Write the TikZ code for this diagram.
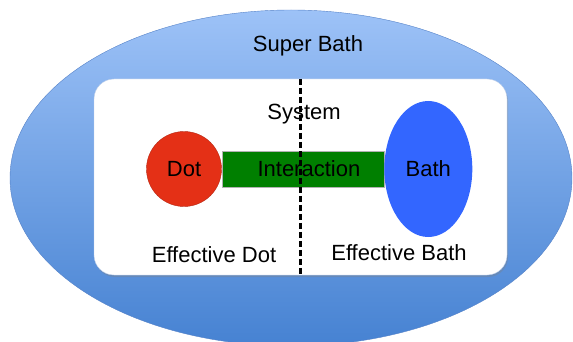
\documentclass[tikz,border=0pt]{standalone}
\usepackage{fontspec}
\setmainfont{Liberation Sans}
\usepackage{tikz}
\usetikzlibrary{shapes.geometric, shadows, positioning}
\definecolor{bathtop}{RGB}{157,194,247}
\definecolor{bathbot}{RGB}{70,130,210}
\definecolor{bathline}{RGB}{85,130,200}
\definecolor{dotred}{RGB}{228,48,22}
\definecolor{linkgreen}{RGB}{0,127,0}
\definecolor{bathblue}{RGB}{51,102,255}
\tikzstyle{superbath} = [ellipse, minimum width=562pt, minimum height=336pt, draw=bathline, top color=bathtop, bottom color=bathbot]
\tikzstyle{sysbox} = [rectangle, rounded corners=20pt, minimum width=413pt, minimum height=196pt, draw=bathline!40, fill=white, drop shadow={opacity=0.35, shadow xshift=1pt, shadow yshift=-2pt}]
\tikzstyle{dotnode} = [circle, minimum size=75pt, inner sep=0pt, draw=dotred!80!black, fill=dotred]
\tikzstyle{interaction} = [rectangle, minimum width=162pt, minimum height=36pt, inner sep=0pt, draw=gray!60, fill=linkgreen]
\tikzstyle{bathnode} = [ellipse, minimum width=88pt, minimum height=136pt, inner sep=0pt, fill=bathblue]
\tikzstyle{divider} = [draw=black, line width=2.4pt, dash pattern=on 6pt off 3pt]

\begin{document}
\begin{tikzpicture}[x=1pt, y=-1pt, font=\fontsize{22}{26}\selectfont, node distance=0pt]
\useasboundingbox (0,0) rectangle (573,342);
\node (super) [superbath] at (291,178) {};
\node (superlabel) at (308,46) {Super Bath};
\node (system) [sysbox] at (300.5,177) {};
\node (systemlabel) at (304,114) {System};
\node (dot) [dotnode] at (184,169) {Dot};
\node (link) [interaction, right=of dot] {\hspace*{12pt}Interaction};
\node (bath) [bathnode, right=of link] {Bath};
\node (effdot) at (214,255) {Effective Dot};
\node (effbath) at (399,253) {Effective Bath};
\draw [divider] (system.north) -- (system.south);
\end{tikzpicture}
\end{document}
